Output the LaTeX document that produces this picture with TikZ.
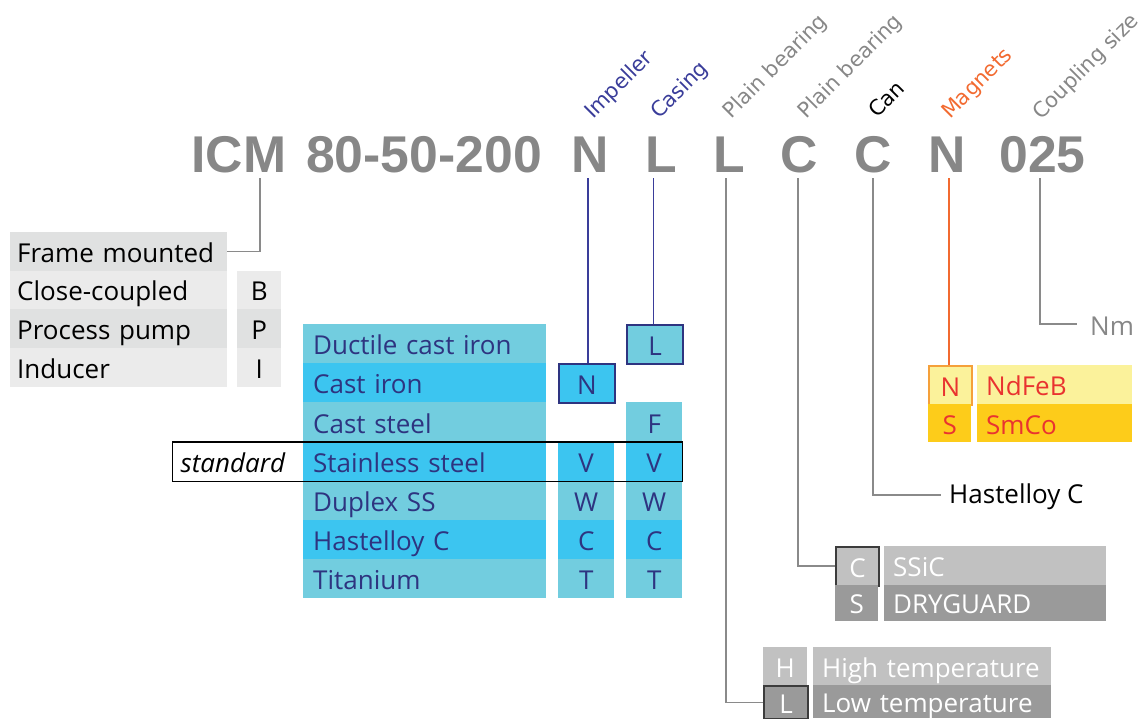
\documentclass[tikz,border=0pt]{standalone}
\usepackage{fontspec}
\setmainfont{Open Sans}
\newfontfamily\hdfont{Liberation Sans}
\newfontfamily\lblfont{DejaVu Sans}
\definecolor{hdgray}{HTML}{878787}
\definecolor{lngray}{HTML}{8A8A8A}
\definecolor{navy}{HTML}{2E3480}
\definecolor{lblblue}{HTML}{3A3D9A}
\definecolor{cyanL}{HTML}{72CDDF}
\definecolor{cyanB}{HTML}{3CC5F0}
\definecolor{grayA}{HTML}{E0E1E1}
\definecolor{grayB}{HTML}{EBEBEB}
\definecolor{yelL}{HTML}{FBF29B}
\definecolor{yelB}{HTML}{FDCC1A}
\definecolor{redt}{HTML}{E93330}
\definecolor{orng}{HTML}{F26A30}
\definecolor{orbd}{HTML}{F5A03A}
\definecolor{gL}{HTML}{C1C1C1}
\definecolor{gD}{HTML}{9A9A9A}
\definecolor{bdr}{HTML}{3C3C3C}
\tikzset{
  hd/.style={anchor=base, inner sep=0pt, text=hdgray, font=\hdfont\bfseries\fontsize{51.7}{60}\selectfont},
  lbl/.style={anchor=base west, rotate=45, inner sep=0pt, font=\lblfont\fontsize{21}{25}\selectfont},
  cellbase/.style={anchor=north west, inner ysep=0pt, text height=24pt, text depth=2pt, font=\fontsize{26}{30}\selectfont},
  lrow/.style={cellbase, inner xsep=7pt, align=left, text width=203pt, minimum height=38.5pt},
  lcode/.style={cellbase, inner xsep=0pt, minimum width=44pt, minimum height=38.5pt},
  mrow/.style={cellbase, inner xsep=10pt, align=left, text width=223pt, minimum height=39.14pt, text=navy},
  mcode/.style={cellbase, inner xsep=0pt, minimum width=56pt, minimum height=39.14pt, text=navy},
  gline/.style={draw=lngray, line width=1.6pt},
  bline/.style={draw=lblblue, line width=1.6pt},
  oline/.style={draw=orng, line width=1.6pt},
}
\begin{document}
\begin{tikzpicture}[x=1pt,y=-1pt]
\useasboundingbox (0,0) rectangle (1145,718);
% header
\node[hd] (hICM) at (239,172) {ICM};
\node[hd] (hNum) at (424,172) {80-50-200};
\node[hd] (hImp) at (590.5,172) {N};
\node[hd] (hCas) at (661,172) {L};
\node[hd] (hBr1) at (729,172) {L};
\node[hd] (hBr2) at (799.5,172) {C};
\node[hd] (hCan) at (873.5,172) {C};
\node[hd] (hMag) at (947.5,172) {N};
\node[hd] (hCpl) at (1042.5,172) {025};
% rotated labels
\node[lbl, text=lblblue] (lImp) at (593,120) {Impeller};
\node[lbl, text=lblblue] (lCas) at (659,120) {Casing};
\node[lbl, text=hdgray] (lBr1) at (731,120) {Plain bearing};
\node[lbl, text=hdgray] (lBr2) at (806,120) {Plain bearing};
\node[lbl, text=black] (lCan) at (877,119) {Can};
\node[lbl, text=orng] (lMag) at (950,120) {Magnets};
\node[lbl, text=hdgray] (lCpl) at (1041,121) {Coupling size};
% left table
\node[lrow, fill=grayA] (frame) at (10,232) {Frame mounted};
\node[lrow, fill=grayB] (close) at (10,270.5) {Close-coupled};
\node[lrow, fill=grayA] (proc) at (10,309) {Process pump};
\node[lrow, fill=grayB, minimum height=39.5pt] (ind) at (10,347.5) {Inducer};
\node[lcode, fill=grayB] (cB) at (237,270.5) {B};
\node[lcode, fill=grayA] (cP) at (237,309) {P};
\node[lcode, fill=grayB, minimum height=39.5pt] (cI) at (237,347.5) {I};
% material table
\node[mrow, fill=cyanL] (m1) at (303,324) {Ductile cast iron};
\node[mrow, fill=cyanB] (m2) at (303,363.14) {Cast iron};
\node[mrow, fill=cyanL] (m3) at (303,402.28) {Cast steel};
\node[mrow, fill=cyanB] (m4) at (303,441.42) {Stainless steel};
\node[mrow, fill=cyanL] (m5) at (303,480.56) {Duplex SS};
\node[mrow, fill=cyanB] (m6) at (303,519.7) {Hastelloy C};
\node[mrow, fill=cyanL] (m7) at (303,558.84) {Titanium};
% impeller column
\node[mcode, fill=cyanB, draw=navy, line width=2pt] (iN) at (558,363.14) {N};
\node[mcode, fill=cyanB] (iV) at (558,441.42) {V};
\node[mcode, fill=cyanL] (iW) at (558,480.56) {W};
\node[mcode, fill=cyanB] (iC) at (558,519.7) {C};
\node[mcode, fill=cyanL] (iT) at (558,558.84) {T};
% casing column
\node[mcode, fill=cyanL, draw=navy, line width=2pt] (kL) at (626,324) {L};
\node[mcode, fill=cyanL] (kF) at (626,402.28) {F};
\node[mcode, fill=cyanB] (kV) at (626,441.42) {V};
\node[mcode, fill=cyanL] (kW) at (626,480.56) {W};
\node[mcode, fill=cyanB] (kC) at (626,519.7) {C};
\node[mcode, fill=cyanL] (kT) at (626,558.84) {T};
% standard frame
\node[cellbase, draw=black, line width=1.2pt, inner xsep=8pt, align=left, text width=494pt, minimum height=39.14pt, font=\itshape\fontsize{26}{30}\selectfont] (std) at (172,441.42) {standard};
% magnets
\node[cellbase, inner xsep=0pt, minimum width=43pt, minimum height=39pt, fill=yelL, draw=orbd, line width=2pt, text=redt] (gN) at (928,365) {N};
\node[cellbase, inner xsep=9pt, align=left, text width=137pt, minimum height=39pt, fill=yelL, text=redt] (gNd) at (977,365) {NdFeB};
\node[cellbase, inner xsep=0pt, minimum width=43pt, minimum height=38pt, fill=yelB, text=redt] (gS) at (928,404) {S};
\node[cellbase, inner xsep=9pt, align=left, text width=137pt, minimum height=38pt, fill=yelB, text=redt] (gSm) at (977,404) {SmCo};
% can
\node[anchor=west, inner xsep=8pt, inner ysep=0pt, text height=18pt, text depth=2pt, font=\fontsize{26}{30}\selectfont] (hast) at (941,495) {Hastelloy C};
% coupling
\node[anchor=west, inner xsep=13pt, inner ysep=0pt, text height=22pt, text depth=0pt, text=hdgray, font=\fontsize{26}{30}\selectfont] (nm) at (1077,324) {Nm};
% plain bearing 2
\node[cellbase, inner xsep=0pt, minimum width=43pt, minimum height=38.5pt, fill=gL, draw=bdr, line width=2pt, text=white] (pC) at (835,546) {C};
\node[cellbase, inner xsep=9pt, align=left, text width=204pt, minimum height=38.5pt, fill=gL, text=white] (pSSiC) at (884,546) {SSiC};
\node[cellbase, inner xsep=0pt, minimum width=43pt, minimum height=36.5pt, fill=gD, text=white] (pS) at (835,584.5) {S};
\node[cellbase, inner xsep=9pt, align=left, text width=204pt, minimum height=36.5pt, fill=gD, text=white] (pDry) at (884,584.5) {DRYGUARD};
% plain bearing 1
\node[cellbase, inner xsep=0pt, minimum width=44pt, minimum height=38pt, fill=gL, text=white] (bH) at (763,647) {H};
\node[cellbase, inner xsep=9pt, align=left, text width=220pt, minimum height=38pt, fill=gL, text=white] (bHigh) at (813,647) {High temperature};
\node[cellbase, inner xsep=0pt, minimum width=44pt, minimum height=33pt, fill=gD, draw=bdr, line width=2pt, text=white] (bL) at (763,685) {L};
\node[cellbase, inner xsep=9pt, align=left, text width=220pt, minimum height=33pt, fill=gD, text=white] (bLow) at (813,685) {Low temperature};
% connector taps
\coordinate (tICM) at (260,178);
\coordinate (tImp) at (588,178);
\coordinate (tCas) at (653.5,178);
\coordinate (tBr1) at (726,178);
\coordinate (tBr2) at (798,178);
\coordinate (tCan) at (873,178);
\coordinate (tMag) at (949,178);
\coordinate (tCpl) at (1040,178);
\draw[gline] (tICM) |- (frame.east);
\draw[bline] (tImp) -- (tImp |- iN.north);
\draw[bline] (tCas) -- (tCas |- kL.north);
\draw[gline] (tBr1) |- (bL.west);
\draw[gline] (tBr2) |- (pC.west);
\draw[gline] (tCan) |- (hast.west);
\draw[oline] (tMag) -- (tMag |- gN.north);
\draw[gline] (tCpl) |- (nm.west);
\end{tikzpicture}
\end{document}
